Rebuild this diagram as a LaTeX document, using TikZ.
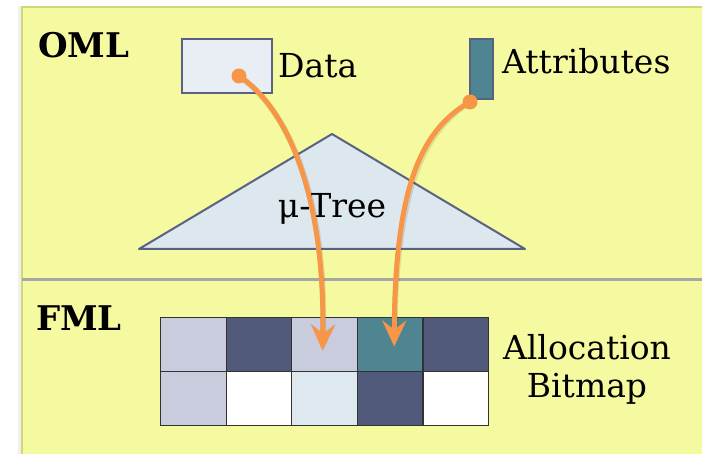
\documentclass[tikz,border=0pt]{standalone}
\usepackage{fontspec}
\setmainfont{DejaVu Serif}
\newfontfamily\labelface{DejaVu Serif}
\usetikzlibrary{arrows.meta,calc}
\definecolor{panelyellow}{RGB}{245,250,160}
\definecolor{panelrim}{RGB}{208,216,120}
\definecolor{divider}{RGB}{166,166,166}
\definecolor{flow}{RGB}{247,150,70}
\definecolor{slatelight}{RGB}{200,204,220}
\definecolor{slatedark}{RGB}{81,90,123}
\definecolor{tealblock}{RGB}{79,133,145}
\definecolor{palecyan}{RGB}{221,232,239}
\definecolor{boxfill}{RGB}{233,238,244}
\definecolor{boxrim}{RGB}{91,97,130}
\definecolor{treefill}{RGB}{220,231,238}
\begin{document}
\begin{tikzpicture}[x=1pt,y=-1pt,
  label/.style={font=\labelface\fontsize{33}{33}\selectfont, inner sep=0pt, text=black},
  layer/.style={font=\labelface\fontsize{34}{34}\selectfont\bfseries, inner sep=0pt, text=black},
  cell/.style={draw=black!80, line width=1.2pt, minimum width=65.6pt, minimum height=54pt, inner sep=0pt, anchor=north west},
  flowline/.style={draw=flow, line width=5pt, -{Stealth[length=26pt,width=24pt,inset=9pt]}},
  flowshadow/.style={draw=black, opacity=0.10, line width=6pt, -{Stealth[length=26pt,width=24pt,inset=9pt]}},
  startdot/.style={fill=flow, circle, minimum size=15pt, inner sep=0pt}
]
\useasboundingbox (0,0) rectangle (702,454);

% panel background
\fill[black, opacity=0.06] (18,6) rectangle (702,456);
\fill[panelyellow] (21,6) rectangle (703,456);
\draw[panelrim, line width=2pt] (22,456) -- (22,7) -- (703,7);
\draw[divider, line width=3pt] (22,280) -- (702,280);

% layer captions
\node[layer, anchor=base west] (oml) at (38,58) {OML};
\node[layer, anchor=base west] (fml) at (36,331) {FML};

% object store: data and attributes
\node[draw=boxrim, fill=boxfill, line width=2pt, minimum width=90pt, minimum height=54pt, inner sep=0pt, anchor=north west] (data) at (181,38) {};
\node[label, anchor=base west] (datatxt) at (278,78) {Data};
\node[draw=boxrim, fill=tealblock, line width=2pt, minimum width=23pt, minimum height=60pt, inner sep=0pt, anchor=north west] (attr) at (469,38) {};
\node[label, anchor=base west] (attrtxt) at (502,74) {Attributes};

% index tree
\draw[draw=boxrim, fill=treefill, line width=2pt, line join=round] (332,134) -- (525,249) -- (139,249) -- cycle;
\node[label, anchor=base] (tree) at (332,218) {μ-Tree};

% allocation bitmap
\foreach \c [count=\i from 0] in {slatelight,slatedark,slatelight,tealblock,slatedark}
  \node[cell, fill=\c] (top\i) at (160+65.6*\i,317) {};
\foreach \c [count=\i from 0] in {slatelight,white,palecyan,slatedark,white}
  \node[cell, fill=\c] (bot\i) at (160+65.6*\i,371) {};
\node[label, anchor=base] (alloc) at (587,360) {Allocation};
\node[label, anchor=base] (bitmap) at (587,398) {Bitmap};

% placement flows
\coordinate (dstart) at (239,76);
\coordinate (astart) at (470,102);
\coordinate (dend) at ($(top2.center)+(-2,6)$);
\coordinate (aend) at ($(top3.center)+(4,2)$);
\draw[flowshadow, shift={(1.5,2.5)}] (dstart) .. controls (290,110) and (325,200) .. (dend);
\draw[flowshadow, shift={(1.5,2.5)}] (astart) .. controls (420,130) and (395,190) .. (aend);
\draw[flowline] (dstart) .. controls (290,110) and (325,200) .. (dend);
\draw[flowline] (astart) .. controls (420,130) and (395,190) .. (aend);
\node[startdot] (ddot) at (dstart) {};
\node[startdot] (adot) at (astart) {};
\end{tikzpicture}
\end{document}
